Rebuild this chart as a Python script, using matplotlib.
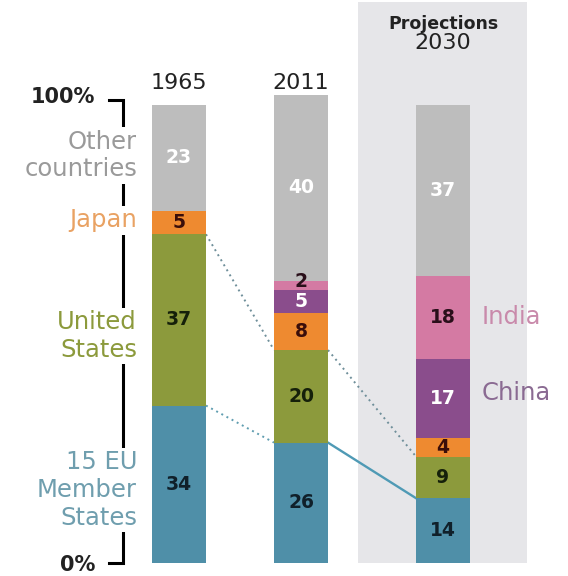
import matplotlib.pyplot as plt

plt.rcParams['font.family'] = ['DejaVu Sans']

# shares of world GDP (%), bottom to top
years = ["1965", "2011", "2030"]
groups = ["15 EU Member States", "United States", "Japan", "China", "India", "Other countries"]
eu = [34, 26, 14]
us = [37, 20, 9]
japan = [5, 8, 4]
china = [0, 5, 17]
india = [0, 2, 18]
other = [23, 40, 37]

colors = ["#4f8fa8", "#8c9a3c", "#ee8a30", "#8a4d8c", "#d47aa3", "#bdbdbd"]
num_colors = ["#10202a", "#15200a", "#3a0e0a", "white", "#2a0f1a", "white"]
label_colors = ["#6f9eae", "#8c9a3c", "#e9a263", "#8a6a92", "#c98aab", "#9a9a9a"]

xpos = [179, 301, 443]
width = 54

fig = plt.figure(figsize=(5.68, 5.76), dpi=100)
ax = fig.add_axes([0, 0, 1, 1])
ax.set_xlim(0, 568)
ax.set_ylim(-13 / 4.63, 563 / 4.63)
ax.axis("off")

# shaded projection panel
ax.fill_between([358, 527], -0.1, 121.2, color="#e6e6e9", lw=0, zorder=0)

series = [eu, us, japan, china, india, other]
bottoms = [0, 0, 0]
tops = []
for vals, c, nc in zip(series, colors, num_colors):
    ax.bar(xpos, vals, width=width, bottom=bottoms, color=c, lw=0, zorder=2)
    for x, b, v in zip(xpos, bottoms, vals):
        if v > 0:
            # thin segments get their number nudged up a little
            y = b + v / 2 + (0.7 if v < 3 else 0)
            ax.text(x, y, str(v), ha="center", va="center",
                    fontsize=13.5, fontweight="bold", color=nc, zorder=3)
    bottoms = [b + v for b, v in zip(bottoms, vals)]
    tops.append(list(bottoms))

eu_top, us_top = tops[0], tops[1]

# connector lines between the bars
ax.plot([xpos[0] + width / 2, xpos[1] - width / 2], [eu_top[0], eu_top[1]],
        ls=(0, (1, 2)), color="#5f9db0", lw=1.4, zorder=1)
ax.plot([xpos[1] + width / 2, xpos[2] - width / 2], [eu_top[1], eu_top[2]],
        ls="-", color="#4f9ab5", lw=1.7, zorder=1)
ax.plot([xpos[0] + width / 2, xpos[1] - width / 2], [us_top[0], us_top[1]],
        ls=(0, (1, 2)), color="#6f8f9a", lw=1.4, zorder=1)
ax.plot([xpos[1] + width / 2, xpos[2] - width / 2], [us_top[1], us_top[2]],
        ls=(0, (1, 2)), color="#6f8f9a", lw=1.4, zorder=1)

# year headings
ax.text(xpos[0], 103.7, years[0], ha="center", va="center", fontsize=16, color="#222222")
ax.text(xpos[1], 103.7, years[1], ha="center", va="center", fontsize=16, color="#222222")
ax.text(xpos[2], 116.5, "Projections", ha="center", va="center", fontsize=12.5,
        fontweight="bold", color="#222222")
ax.text(xpos[2], 112.4, years[2], ha="center", va="center", fontsize=16, color="#222222")

# left scale bracket
ax.plot([109, 123, 123, 109], [100, 100, 0, 0], color="black", lw=2.2, zorder=1,
        solid_joinstyle="miter")
ax.text(95, 100.6, "100%", ha="right", va="center", fontsize=15, fontweight="bold",
        color="#222222")
ax.text(95, -0.4, "0%", ha="right", va="center", fontsize=15, fontweight="bold",
        color="#222222")

# group names beside the first bar
left_labels = [("15 EU\nMember\nStates", 15.8, label_colors[0]),
               ("United\nStates", 49.0, label_colors[1]),
               ("Japan", 74.0, label_colors[2]),
               ("Other\ncountries", 88.0, label_colors[5])]
for txt, y, c in left_labels:
    ax.text(137, y, txt, ha="right", va="center", fontsize=17.5, color=c,
            linespacing=1.2, zorder=2,
            bbox=dict(boxstyle="square,pad=0.1", fc="white", ec="none"))

# India and China beside the projection bar
ax.text(482, 53.1, "India", ha="left", va="center", fontsize=17.5, color=label_colors[4])
ax.text(482, 36.7, "China", ha="left", va="center", fontsize=17.5, color=label_colors[3])

fig.savefig("out.png", dpi=100)
